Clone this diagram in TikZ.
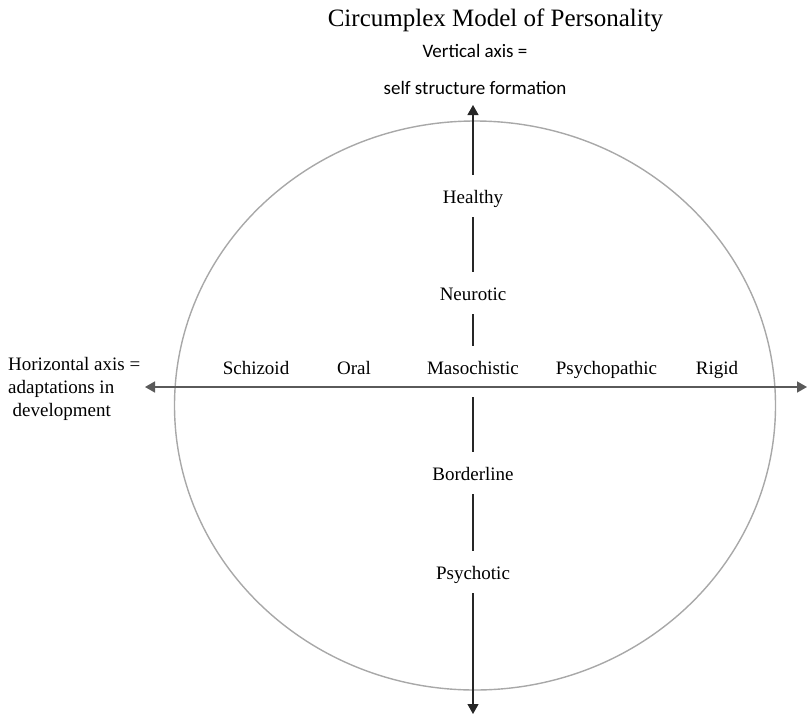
\documentclass[tikz,border=0pt]{standalone}
\usepackage{fontspec}
\setmainfont{Liberation Serif}
\newfontfamily\calibrifont{Carlito}
\usetikzlibrary{arrows.meta}
\definecolor{ellcol}{HTML}{A8A8A8}
\definecolor{hcol}{HTML}{5A5A5A}
\definecolor{vcol}{HTML}{262626}
\begin{document}
\begin{tikzpicture}[x=1pt,y=-1pt,
  lbl/.style={font=\fontsize{19}{23}\selectfont, text height=13pt, text depth=4pt, inner sep=0pt, anchor=base},
  haxisline/.style={draw=hcol, line width=1.6pt},
  vaxisline/.style={draw=vcol, line width=1.2pt},
  ellline/.style={draw=ellcol, line width=1.4pt},
  tip/.style={-{Triangle[length=10pt,width=11pt]}},
  twotips/.style={{Triangle[length=10pt,width=11pt]}-{Triangle[length=10pt,width=11pt]}},
  gapped/.style={shorten <=10pt, shorten >=15pt}
]
\useasboundingbox (0,0) rectangle (808,715);

% ellipse
\draw[ellline] (475,405.5) ellipse [x radius=300.5pt, y radius=284.5pt];

% title and axis labels
\node[font=\fontsize{25}{30}\selectfont, anchor=base] (title) at (495.5,26) {Circumplex Model of Personality};
\node[font=\calibrifont\fontsize{19}{37}\selectfont, align=center, inner sep=0pt] (vlabel) at (475,69) {Vertical axis =\\self structure formation};
\node[font=\fontsize{19}{23}\selectfont, align=left, inner sep=0pt, anchor=west] (hlabel) at (8,388.6) {Horizontal axis =\\adaptations in\\\hspace*{4.5pt}development};

% labels
\node[lbl] (healthy) at (473,203) {Healthy};
\node[lbl] (neurotic) at (473,300) {Neurotic};
\node[lbl] (maso) at (473,374) {Masochistic};
\node[lbl] (schizoid) at (256,374) {Schizoid};
\node[lbl] (oral) at (354,374) {Oral};
\node[lbl] (psychopathic) at (606.5,374) {Psychopathic};
\node[lbl] (rigid) at (717,374) {Rigid};
\node[lbl] (borderline) at (473,480) {Borderline};
\node[lbl] (psychotic) at (473,579) {Psychotic};

% axis end points
\coordinate (vtop) at (473,105);
\coordinate (vbot) at (473,714);
\coordinate (vmid) at (473,397);
\coordinate (hleft) at (145,387);
\coordinate (hright) at (807,387);

% horizontal axis
\draw[haxisline, twotips] (hleft) -- (hright);

% vertical axis (interrupted by labels)
\draw[vaxisline, tip, shorten <=15pt] (healthy.north) -- (vtop);
\draw[vaxisline, gapped] (healthy.south) -- (neurotic.north);
\draw[vaxisline, gapped] (neurotic.south) -- (maso.north);
\draw[vaxisline, shorten >=15pt] (vmid) -- (borderline.north);
\draw[vaxisline, gapped] (borderline.south) -- (psychotic.north);
\draw[vaxisline, tip, shorten <=10pt] (psychotic.south) -- (vbot);
\end{tikzpicture}
\end{document}
